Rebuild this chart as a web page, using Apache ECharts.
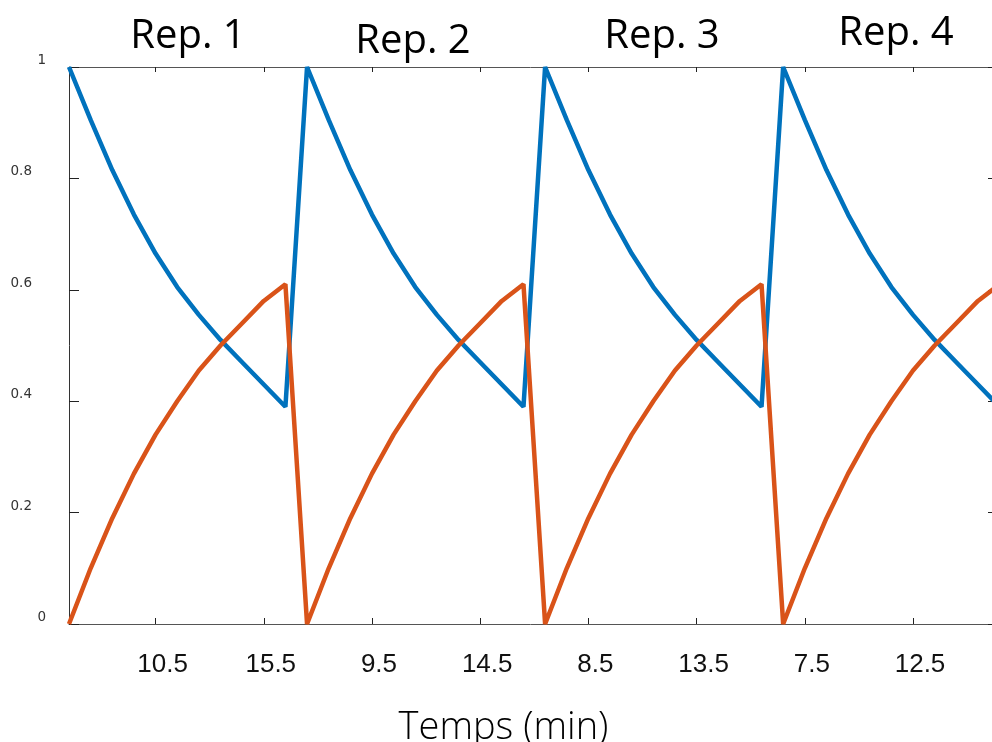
<!DOCTYPE html>
<html>
<head>
<meta charset="utf-8">
<script src="https://cdn.jsdelivr.net/npm/echarts@6/dist/echarts.min.js"></script>
<style>
  html, body { margin: 0; padding: 0; background: #fff; }
  #chart { width: 992px; height: 742px; }
</style>
</head>
<body>
<div id="chart"></div>
<script>
// Elapsed time on the plot (min); each repetition lasts 11 min on this scale
const time = [
  0, 1, 2, 3, 4, 5, 6, 7, 8, 9, 10,
  11, 12, 13, 14, 15, 16, 17, 18, 19, 20, 21,
  22, 23, 24, 25, 26, 27, 28, 29, 30, 31, 32,
  33, 34, 35, 36, 37, 38, 39, 40, 41, 42, 43
];
// Decaying fraction (blue)
const fractionA = [
  1, 0.905, 0.815, 0.735, 0.665, 0.605, 0.555, 0.51, 0.47, 0.43, 0.39,
  1, 0.905, 0.815, 0.735, 0.665, 0.605, 0.555, 0.51, 0.47, 0.43, 0.39,
  1, 0.905, 0.815, 0.735, 0.665, 0.605, 0.555, 0.51, 0.47, 0.43, 0.39,
  1, 0.905, 0.815, 0.735, 0.665, 0.605, 0.555, 0.51, 0.47, 0.43, 0.39
];
// Growing fraction (orange)
const fractionB = [
  0, 0.1, 0.19, 0.27, 0.34, 0.4, 0.455, 0.5, 0.54, 0.58, 0.61,
  0, 0.1, 0.19, 0.27, 0.34, 0.4, 0.455, 0.5, 0.54, 0.58, 0.61,
  0, 0.1, 0.19, 0.27, 0.34, 0.4, 0.455, 0.5, 0.54, 0.58, 0.61,
  0, 0.1, 0.19, 0.27, 0.34, 0.4, 0.455, 0.5, 0.54, 0.58, 0.61
];
// Tick positions on the elapsed-time scale and the in-repetition time they show
const xTickValues = [4, 9, 14, 19, 24, 29, 34, 39];
const xTickLabels = ['10.5', '15.5', '9.5', '14.5', '8.5', '13.5', '7.5', '12.5'];
const yTickLabels = ['0', '0.2', '0.4', '0.6', '0.8', '1'];
const repTitles = ['Rep. 1', 'Rep. 2', 'Rep. 3', 'Rep. 4'];
const xTitle = 'Temps (min)';

const chart = echarts.init(document.getElementById('chart'), null, { renderer: 'canvas' });

const seriesA = time.map((t, i) => [t, fractionA[i]]);
const seriesB = time.map((t, i) => [t, fractionB[i]]);

// Title placement (centre x, cap-middle y)
const titlePos = [[188, 34], [413, 38.5], [662, 34], [896, 31]];

const yLabelFont = { fontFamily: 'DejaVu Sans', fontSize: 13.5, color: '#333', lineHeight: 13 };

const option = {
  animation: false,
  backgroundColor: '#fff',
  grid: { left: 69, right: 0, top: 67, bottom: 118, containLabel: false, outerBoundsMode: 'none' },
  xAxis: [
    {
      type: 'value', position: 'bottom', min: 0, max: 42.65,
      axisLine: { show: true, onZero: false, lineStyle: { color: '#555', width: 1 } },
      axisTick: { show: true, inside: true, length: 6, customValues: xTickValues, lineStyle: { color: '#222' } },
      axisLabel: {
        customValues: xTickValues,
        formatter: v => xTickLabels[xTickValues.indexOf(v)],
        fontFamily: 'Liberation Sans', fontSize: 26, color: '#111', margin: 28,
        padding: [0, 0, 0, 14]
      },
      splitLine: { show: false },
      name: xTitle, nameLocation: 'middle', nameGap: 85,
      nameTextStyle: {
        fontFamily: 'Open Sans', fontSize: 38, fontWeight: 300, color: '#000',
        padding: [0, 54, 0, 0]
      }
    },
    {
      type: 'value', position: 'top', min: 0, max: 42.65,
      axisLine: { show: true, onZero: false, lineStyle: { color: '#555', width: 1 } },
      axisTick: { show: true, inside: true, length: 5, customValues: xTickValues, lineStyle: { color: '#222' } },
      axisLabel: { show: false },
      splitLine: { show: false }
    }
  ],
  yAxis: [
    {
      type: 'value', position: 'left', min: 0, max: 1, interval: 0.2,
      axisLine: { show: true, onZero: false, lineStyle: { color: '#333', width: 1 } },
      axisTick: { show: true, inside: true, length: 10, lineStyle: { color: '#222' } },
      axisLabel: {
        margin: 23, verticalAlign: 'bottom',
        ...yLabelFont,
        formatter: v => {
          const s = yTickLabels[Math.round(v * 5)];
          return s.indexOf('.') < 0 ? '{w|' + s + '}' : '{d|' + s + '}';
        },
        rich: {
          w: { ...yLabelFont },
          d: { ...yLabelFont, padding: [0, 14, 0, 0] }
        }
      },
      splitLine: { show: false }
    },
    {
      type: 'value', position: 'right', min: 0, max: 1, interval: 0.2,
      axisLine: { show: false, onZero: false },
      axisTick: { show: true, inside: true, length: 4, lineStyle: { color: '#222' } },
      axisLabel: { show: false },
      splitLine: { show: false }
    }
  ],
  graphic: repTitles.map((txt, i) => ({
    type: 'text',
    x: titlePos[i][0], y: titlePos[i][1] + 3,
    style: {
      text: txt, fill: '#000',
      font: '40px "Open Sans"',
      align: 'center', verticalAlign: 'middle'
    }
  })),
  series: [
    {
      type: 'line', data: seriesA, showSymbol: false, xAxisIndex: 0, yAxisIndex: 0,
      lineStyle: { color: '#0072BD', width: 4.5 }, itemStyle: { color: '#0072BD' }, z: 3
    },
    {
      type: 'line', data: seriesB, showSymbol: false, xAxisIndex: 0, yAxisIndex: 0,
      lineStyle: { color: '#D95319', width: 4.5 }, itemStyle: { color: '#D95319' }, z: 4
    }
  ]
};

chart.setOption(option);
</script>
</body>
</html>
